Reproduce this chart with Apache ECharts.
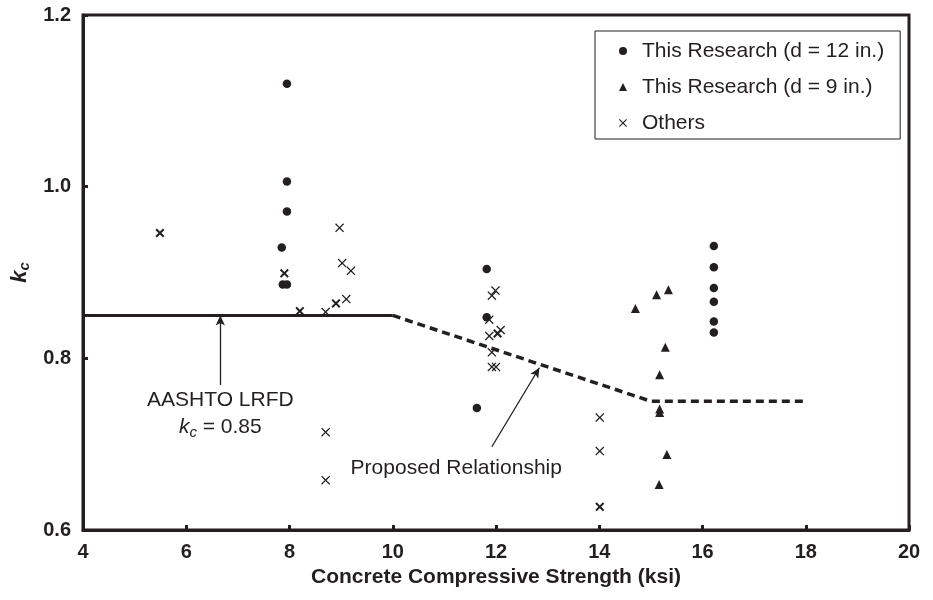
<!DOCTYPE html>
<html><head><meta charset="utf-8">
<script src="https://cdn.jsdelivr.net/npm/echarts@6/dist/echarts.min.js"></script>
<style>html,body{margin:0;padding:0;background:#fff}#c{width:933px;height:600px}</style>
</head><body><div id="c"></div>
<script>
// ---- data ----
const xTickMin = 4, xTickMax = 20, xTickStep = 2;
const yTickMin = 0.6, yTickMax = 1.2, yTickStep = 0.2;

const research12 = [[7.95,1.120],[7.95,1.006],[7.95,0.971],[7.85,0.929],[7.87,0.886],[7.95,0.886],
  [11.82,0.904],[11.82,0.848],[11.63,0.742],
  [16.22,0.931],[16.22,0.906],[16.22,0.882],[16.22,0.866],[16.22,0.843],[16.22,0.830]];
const research9 = [[14.70,0.858],[15.11,0.874],[15.34,0.880],[15.28,0.813],[15.17,0.781],
  [15.17,0.741],[15.17,0.737],[15.31,0.688],[15.16,0.653]];
const othersThin = [[8.97,0.952],[9.02,0.911],[9.19,0.902],[8.70,0.854],[9.10,0.869],[8.70,0.714],[8.70,0.658],
  [11.99,0.879],[11.92,0.873],[11.87,0.845],[11.87,0.826],[12.09,0.833],[11.92,0.807],[11.92,0.790],[12.00,0.790],
  [14.01,0.731],[14.01,0.692]];
const othersBold = [[5.49,0.946],[7.90,0.899],[8.20,0.855],[8.90,0.864],[12.03,0.829],[14.01,0.627]];
const aashto = [[4,0.85],[10,0.85]];
const proposed = [[10,0.85],[15,0.75],[18,0.75]];

const names = ['This Research (d = 12 in.)','This Research (d = 9 in.)','Others'];

// ---- chart ----
const ink = '#231f20';
const crossThin = 'path://M0,1L1,0L5,4L9,0L10,1L6,5L10,9L9,10L5,6L1,10L0,9L4,5Z';
const crossBold = 'path://M0,1.6L1.6,0L5,3.4L8.4,0L10,1.6L6.6,5L10,8.4L8.4,10L5,6.6L1.6,10L0,8.4L3.4,5Z';
const font = 'Liberation Sans, Arial, Helvetica, sans-serif';

const chart = echarts.init(document.getElementById('c'), null, {renderer:'canvas'});
chart.setOption({
  animation: false,
  backgroundColor: '#fff',
  textStyle: {fontFamily: font, color: ink},
  grid: {left: 83, right: 24, top: 15, bottom: 70, show: true, borderColor: ink, borderWidth: 3, backgroundColor: 'transparent'},
  legend: {
    orient: 'vertical', left: 595, top: 31,
    padding: [9, 16, 5, 24], itemGap: 14,
    itemWidth: 8, itemHeight: 8,
    borderColor: ink, borderWidth: 1, backgroundColor: '#fff',
    itemStyle: {opacity: 1},
    textStyle: {fontSize: 21, color: ink, lineHeight: 22, padding: [0,0,0,10], fontFamily: font},
    data: [{name: names[0], icon: 'circle'}, {name: names[1], icon: 'triangle'}, {name: names[2], icon: crossThin}]
  },
  xAxis: {
    type: 'value', min: xTickMin, max: xTickMax, interval: xTickStep,
    name: 'Concrete Compressive Strength (ksi)', nameLocation: 'middle', nameGap: 37,
    nameTextStyle: {fontSize: 21, fontWeight: 'bold', color: ink},
    axisLine: {lineStyle: {color: ink, width: 3}},
    axisTick: {inside: true, length: 5, lineStyle: {color: ink, width: 3}},
    axisLabel: {fontSize: 20, fontWeight: 'bold', color: ink, margin: 12},
    splitLine: {show: false}
  },
  yAxis: {
    type: 'value', min: yTickMin, max: yTickMax, interval: yTickStep,
    name: '{k|k}{c|c}', nameLocation: 'middle', nameGap: 46, nameRotate: 90,
    nameTextStyle: {rich: {
      k: {fontSize: 22, fontWeight: 'bold', fontStyle: 'italic', color: ink, lineHeight: 24},
      c: {fontSize: 15, fontWeight: 'bold', fontStyle: 'italic', color: ink, lineHeight: 15, verticalAlign: 'bottom'}
    }},
    axisLine: {lineStyle: {color: ink, width: 3}},
    axisTick: {inside: true, length: 5, lineStyle: {color: ink, width: 3}},
    axisLabel: {fontSize: 20, fontWeight: 'bold', color: ink, margin: 12, formatter: v => v.toFixed(1)},
    splitLine: {show: false}
  },
  series: [
    {type: 'line', name: 'AASHTO LRFD', data: aashto, symbol: 'none', z: 2,
     lineStyle: {color: ink, width: 3}, silent: true,
     markLine: {silent: true, symbol: ['none','arrow'], symbolSize: [7, 10],
       lineStyle: {color: ink, width: 1.3, type: 'solid'}, label: {show: false},
       data: [
         [{coord: [6.66, 0.769]}, {coord: [6.66, 0.850]}],
         [{coord: [11.92, 0.697]}, {coord: [12.84, 0.789]}]
       ]},
     markPoint: {silent: true, symbol: 'rect', symbolSize: 1, itemStyle: {color: 'rgba(0,0,0,0)'},
       data: [
         {coord: [6.66, 0.736], label: {show: true, position: 'inside', color: ink,
           formatter: '{t|AASHTO LRFD}\n{k|k}{c|c}{t| = 0.85}',
           rich: {
             t: {fontSize: 21, color: ink, lineHeight: 27, fontFamily: font},
             k: {fontSize: 21, color: ink, fontStyle: 'italic', lineHeight: 27, fontFamily: font},
             c: {fontSize: 15, color: ink, fontStyle: 'italic', lineHeight: 17, verticalAlign: 'bottom', fontFamily: font}
           }}},
         {coord: [11.23, 0.672], label: {show: true, position: 'inside', color: ink, fontSize: 21,
           formatter: 'Proposed Relationship', fontFamily: font}}
       ]}
    },
    {type: 'line', name: 'Proposed Relationship', data: proposed, symbol: 'none', z: 2, silent: true,
     lineStyle: {color: ink, width: 3.5, type: [8, 5]}},
    {type: 'scatter', name: names[0], data: research12, symbol: 'circle', symbolSize: 8.5,
     itemStyle: {color: ink, opacity: 1}, z: 3},
    {type: 'scatter', name: names[1], data: research9, symbol: 'triangle', symbolSize: 9,
     itemStyle: {color: ink, opacity: 1}, z: 3},
    {type: 'scatter', name: names[2], data: othersThin, symbol: crossThin, symbolSize: 9,
     itemStyle: {color: ink, opacity: 1}, z: 3},
    {type: 'scatter', name: names[2], data: othersBold, symbol: crossBold, symbolSize: 9,
     itemStyle: {color: ink, opacity: 1}, z: 3}
  ]
});
</script>
</body></html>
